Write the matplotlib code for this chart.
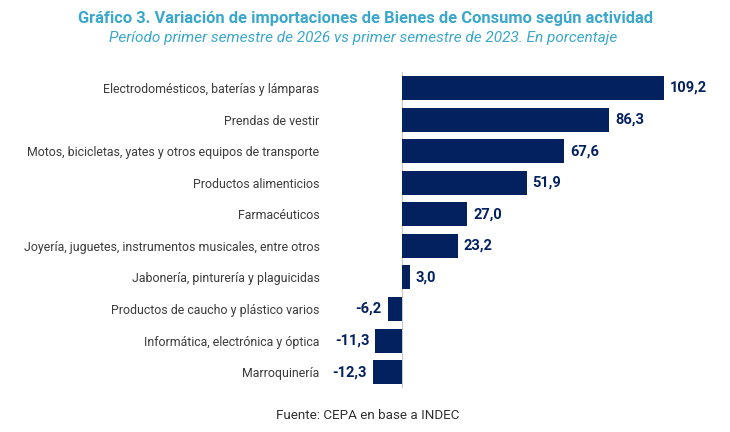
import matplotlib
matplotlib.use("Agg")
import matplotlib.pyplot as plt

plt.rcParams['font.family'] = ['Roboto', 'DejaVu Sans']

categorias = [
    "Electrodomésticos, baterías y lámparas",
    "Prendas de vestir",
    "Motos, bicicletas, yates y otros equipos de transporte",
    "Productos alimenticios",
    "Farmacéuticos",
    "Joyería, juguetes, instrumentos musicales, entre otros",
    "Jabonería, pinturería y plaguicidas",
    "Productos de caucho y plástico varios",
    "Informática, electrónica y óptica",
    "Marroquinería",
]
variacion = [109.2, 86.3, 67.6, 51.9, 27.0, 23.2, 3.0, -6.2, -11.3, -12.3]
etiquetas = ["109,2", "86,3", "67,6", "51,9", "27,0", "23,2", "3,0", "-6,2", "-11,3", "-12,3"]

azul = '#03215f'
celeste = '#3aa7cb'

fig = plt.figure(figsize=(7.3, 4.32), dpi=100)
ax = fig.add_axes([0.453, 0.102, 0.533, 0.731])

y = list(range(len(categorias)))
ax.barh(y, variacion, height=0.76, color=azul)
ax.set_yticks(y)
ax.set_yticklabels(categorias, fontsize=8.9, color='#3c3c3c')
ax.set_ylim(9.5, -0.5)
ax.set_xlim(-30, 132.6)
ax.tick_params(axis='y', length=0, pad=8)
ax.set_xticks([])
for s in ax.spines.values():
    s.set_visible(False)
ax.axvline(0, color='#c8c8c8', lw=0.8, zorder=0)

for yi, v, t in zip(y, variacion, etiquetas):
    if v >= 0:
        ax.text(v + 2.5, yi, t, va='center', ha='left', fontsize=10.5,
                fontweight='bold', color=azul)
    else:
        ax.text(v - 2.5, yi, t, va='center', ha='right', fontsize=10.5,
                fontweight='bold', color=azul)

fig.text(0.5, 0.958, "Gráfico 3. Variación de importaciones de Bienes de Consumo según actividad",
         ha='center', va='center', fontsize=11.9, fontweight='bold', color=celeste)
fig.text(0.497, 0.912, "Período primer semestre de 2026 vs primer semestre de 2023. En porcentaje",
         ha='center', va='center', fontsize=11.1, style='italic', color=celeste)
fig.text(0.504, 0.038, "Fuente: CEPA en base a INDEC", ha='center', va='center',
         fontsize=9.6, color='#303030')

fig.savefig("out.png", dpi=100)
